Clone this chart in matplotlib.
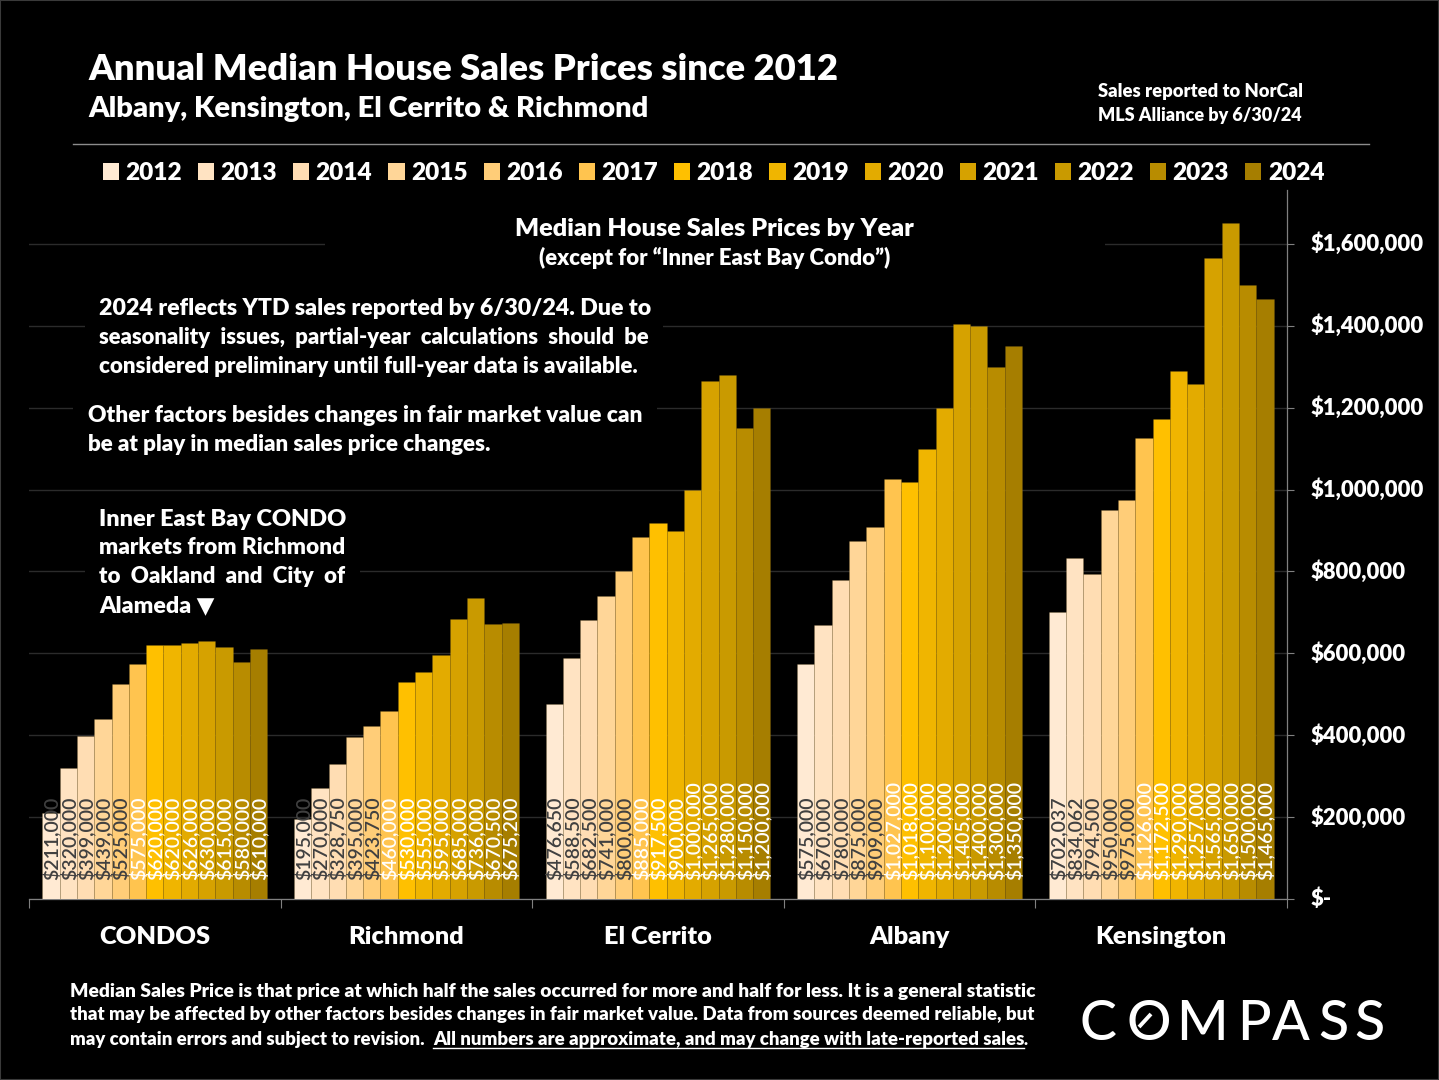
import matplotlib
matplotlib.use("Agg")
import matplotlib.pyplot as plt
from matplotlib.patches import Rectangle
from matplotlib.lines import Line2D
from matplotlib.ticker import FuncFormatter, FixedLocator

W, H = 1439, 1080
years = [2012, 2013, 2014, 2015, 2016, 2017, 2018, 2019, 2020, 2021, 2022, 2023, 2024]
groups = ["CONDOS", "Richmond", "El Cerrito", "Albany", "Kensington"]
condos = [211000, 320000, 399000, 439000, 525000, 575000, 620000, 620000, 626000, 630000, 615000, 580000, 610000]
richmond = [195000, 270000, 328750, 395000, 423750, 460000, 530000, 555000, 595000, 685000, 736000, 670500, 675200]
el_cerrito = [476650, 588500, 682500, 741000, 800000, 885000, 917500, 900000, 1000000, 1265000, 1280000, 1150000, 1200000]
albany = [575000, 670000, 780000, 875000, 909000, 1027000, 1018000, 1100000, 1200000, 1405000, 1400000, 1300000, 1350000]
kensington = [702037, 834062, 794500, 950000, 975000, 1126000, 1172500, 1290000, 1257000, 1565000, 1650000, 1500000, 1465000]
colors = ["#FFEAD3", "#FFE3C2", "#FFDDB3", "#FFD698", "#FFCD78", "#FFC44F", "#FFC000",
          "#F0B500", "#E3AB00", "#D6A200", "#C99A00", "#B88C00", "#A67E00"]
label_colors = ["#404040"] * 5 + ["#FFFFFF"] * 8
yticks = [0, 200000, 400000, 600000, 800000, 1000000, 1200000, 1400000, 1600000]

FONT = "Lato"
HEAVY = 800
fig = plt.figure(figsize=(W / 100, H / 100), dpi=100, facecolor="black")
fig.patches.append(Rectangle((0, 0), 1, 1, transform=fig.transFigure, fill=False, ec="#3a3a3a", lw=1.5))
ax = fig.add_axes([29 / W, 1 - 899 / H, (1287 - 29) / W, (899 - 190) / H], facecolor="black")
ax.set_xlim(0, 5)
ax.set_ylim(0, 1.7318e6)

bw = 17.3 / 251.6
series = [condos, richmond, el_cerrito, albany, kensington]
for g, vals in enumerate(series):
    for k, v in enumerate(vals):
        x = g + 0.5 + (k - 6) * bw
        ax.bar(x, v, width=bw, color=colors[k], edgecolor="#8a6a2030", linewidth=0.6, zorder=3)
        ax.annotate(f"${v:,.0f}", (x, 0), xytext=(0.3, 13.7), textcoords="offset points",
                    rotation=90, ha="center", va="bottom", color=label_colors[k],
                    fontsize=14.0, family=FONT, fontweight=600, zorder=5, annotation_clip=False)

ax.set_axisbelow(True)
ax.yaxis.tick_right()
ax.yaxis.set_major_locator(FixedLocator(yticks))
ax.yaxis.set_major_formatter(FuncFormatter(lambda v, p: "$-" if v == 0 else f"${v:,.0f}"))
ax.grid(axis="y", color="#2b2b2b", lw=1, zorder=0)
ax.tick_params(axis="y", length=5, width=0.8, color="#808080", pad=12, labelcolor="white", labelsize=15.8)
for lab in ax.get_yticklabels():
    lab.set_fontfamily(FONT); lab.set_fontweight(HEAVY); lab.set_verticalalignment("center")
ax.set_xticks(range(6))
ax.set_xticklabels([])
ax.tick_params(axis="x", which="major", length=6.5, width=0.8, color="#808080")
ax.set_xticks([g + 0.5 for g in range(5)], minor=True)
ax.set_xticklabels(groups, minor=True)
ax.tick_params(axis="x", which="minor", length=0, pad=19.5, labelcolor="white", labelsize=18.3)
for lab in ax.get_xticklabels(minor=True):
    lab.set_fontfamily(FONT); lab.set_fontweight(HEAVY)
for s in ("top", "left"):
    ax.spines[s].set_visible(False)
for s in ("right", "bottom"):
    ax.spines[s].set_color("#808080"); ax.spines[s].set_linewidth(0.9)

# black text boxes that hide gridlines
for (x0, x1, y0, y1) in [(325, 1105, 205, 275), (85, 663, 290, 385), (73, 657, 395, 460), (85, 360, 505, 620)]:
    ax.add_patch(Rectangle((x0 / W, 1 - y1 / H), (x1 - x0) / W, (y1 - y0) / H, transform=fig.transFigure,
                           fc="black", ec="none", zorder=1))

renderer = fig.canvas.get_renderer()

def width(t):
    return t.get_window_extent(renderer).width

def put(s, x0, x1, base, fs=17.0, weight=HEAVY, justify=False, color="white"):
    t = fig.text(x0 / W, 1 - base / H, s, color=color, fontsize=fs, family=[FONT, "DejaVu Sans"],
                 fontweight=weight, ha="left", va="baseline")
    if justify:
        gaps = s.count(" ")
        t.set_text("a a"); sw = width(t)
        t.set_text("aa"); sw -= width(t)
        t.set_text(s)
        n = max(0, round((x1 - x0 - width(t)) / (sw * gaps)))
        t.set_text(s.replace(" ", " " * (1 + n)))
    t.set_fontsize(t.get_fontsize() * (x1 - x0) / width(t))
    return t

put("Annual Median House Sales Prices since 2012", 88, 839, 80)
put("Albany, Kensington, El Cerrito & Richmond", 88, 651, 117)
put("Sales reported to NorCal", 1098, 1302, 97)
put("MLS Alliance by 6/30/24", 1098, 1302, 121)
fig.add_artist(Line2D([73 / W, 1369 / W], [1 - 144 / H] * 2, color="#8c8c8c", lw=1))

put("Median House Sales Prices by Year", 515, 915, 236)
put("(except for \u201cInner East Bay Condo\u201d)", 539, 891, 265)

p_fs = put("considered preliminary until full-year data is available.", 99, 641, 373).get_fontsize()
put("2024 reflects YTD sales reported by 6/30/24. Due to", 99, 649, 315, fs=p_fs, justify=True)
put("seasonality issues, partial-year calculations should be", 99, 649, 344, fs=p_fs, justify=True)
q_fs = put("be at play in median sales price changes.", 88, 493, 451).get_fontsize()
put("Other factors besides changes in fair market value can", 88, 641, 422, fs=q_fs, justify=True)
a_fs = put("Alameda \u25BC", 99, 214, 612).get_fontsize()
put("Inner East Bay CONDO", 99, 346, 526, fs=a_fs, justify=True)
put("markets from Richmond", 99, 346, 554, fs=a_fs, justify=True)
put("to Oakland and City of", 99, 346, 583, fs=a_fs, justify=True)

f_fs = put("may contain errors and subject to revision.", 70, 425, 1045).get_fontsize()
put("Median Sales Price is that price at which half the sales occurred for more and half for less. It is a general statistic",
    70, 1036, 997, fs=f_fs, justify=True)
put("that may be affected by other factors besides changes in fair market value. Data from sources deemed reliable, but",
    70, 1036, 1020, fs=f_fs, justify=True)
put("All numbers are approximate, and may change with late-reported sales", 433, 1024, 1045)
put(".", 1024, 1028, 1045)
fig.add_artist(Line2D([433 / W, 1024 / W], [1 - 1047.5 / H] * 2, color="white", lw=1))

# legend
handles = [Rectangle((0, 0), 1, 1, fc=c, ec="none") for c in colors]
leg = fig.legend(handles, [str(y) for y in years], ncol=13, loc="center",
                 bbox_to_anchor=(713.5 / W, 1 - 173 / H), frameon=False,
                 prop={"family": FONT, "weight": HEAVY, "size": 17.6},
                 handlelength=0.66, handleheight=0.66, handletextpad=0.26, columnspacing=0.66,
                 borderpad=0, borderaxespad=0, labelcolor="white")

# logo
for ch, cx in zip("COMPASS", [1098, 1149, 1202, 1254, 1291, 1333, 1369]):
    fig.text(cx / W, 1 - 1040 / H, ch, color="white", fontsize=40, family=FONT, fontweight=500, ha="center", va="baseline")
fig.add_artist(Line2D([1139 / W, 1151 / W], [1 - 1027 / H, 1 - 1014 / H], color="white", lw=2.8, solid_capstyle="butt"))

fig.savefig("out.png", dpi=100, facecolor="black")
